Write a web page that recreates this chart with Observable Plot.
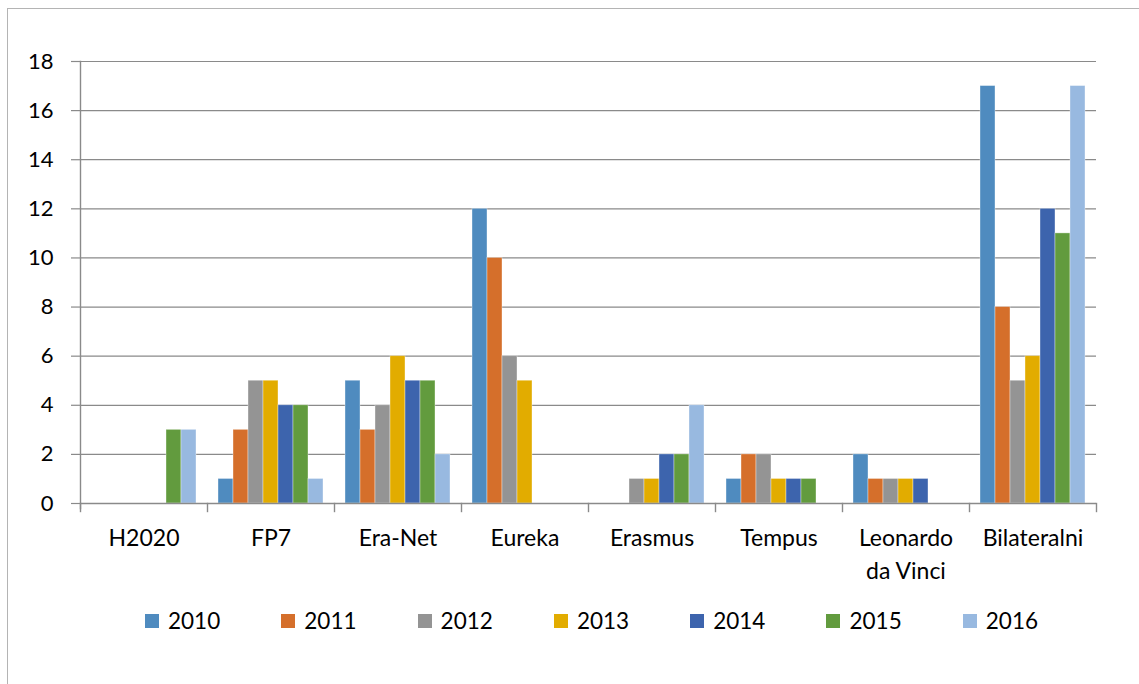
<!DOCTYPE html>
<html>
<head>
<meta charset="utf-8">
<script src="https://cdn.jsdelivr.net/npm/d3@7"></script>
<script src="https://cdn.jsdelivr.net/npm/@observablehq/plot@0.6"></script>
<style>
  html, body { margin: 0; padding: 0; background: #fff; overflow: hidden; }
  body { width: 1139px; height: 684px; position: relative; font-family: Lato, "Open Sans", sans-serif; }
  #frame { position: absolute; left: 7px; top: 8px; width: 1300px; height: 800px;
           border-left: 1.5px solid #b4b4b4; border-top: 1.5px solid #b4b4b4; box-sizing: border-box; }
  #chart { position: absolute; left: 0; top: 0; }
  #legend { position: absolute; left: 0; top: 606px; width: 1139px; height: 30px;
            display: flex; padding-left: 145px; box-sizing: border-box; }
  .item { width: 136.3px; display: flex; align-items: center; flex: none; }
  .sw { width: 14px; height: 14px; flex: none; margin-right: 9px; }
  .lab { font-size: 22.5px; color: #000; line-height: 28px; }
</style>
</head>
<body>
<div id="frame"></div>
<div id="chart"></div>
<div id="legend"></div>
<script>
// ---- data ----
const categories = ["H2020", "FP7", "Era-Net", "Eureka", "Erasmus", "Tempus", "Leonardo da Vinci", "Bilateralni"];
const years = ["2010", "2011", "2012", "2013", "2014", "2015", "2016"];
const s2010 = [0, 1, 5, 12, 0, 1, 2, 17];
const s2011 = [0, 3, 3, 10, 0, 2, 1, 8];
const s2012 = [0, 5, 4, 6, 1, 2, 1, 5];
const s2013 = [0, 5, 6, 5, 1, 1, 1, 6];
const s2014 = [0, 4, 5, 0, 2, 1, 1, 12];
const s2015 = [3, 4, 5, 0, 2, 1, 0, 11];
const s2016 = [3, 1, 2, 0, 4, 0, 0, 17];
const yTicks = [0, 2, 4, 6, 8, 10, 12, 14, 16, 18];
const colors = ["#4f8bbf", "#d56f2b", "#949494", "#e2ac00", "#3d64ad", "#629b3e", "#98b9e0"];

const series = [s2010, s2011, s2012, s2013, s2014, s2015, s2016];
const data = categories.flatMap((c, i) =>
  years.map((y, j) => ({category: c, year: y, value: series[j][i]}))
);

const gray = "#8a8a8a";
const plotH = 590, mTop = 61, mBottom = 87;
const inner = plotH - mTop - mBottom;

const chart = Plot.plot({
  width: 1139,
  height: plotH,
  marginLeft: 80,
  marginRight: 43,
  marginTop: mTop,
  marginBottom: mBottom,
  style: {fontFamily: "Lato, 'Open Sans', sans-serif", fontSize: "22px", color: "#000", background: "transparent", overflow: "visible"},
  fx: {domain: categories, padding: 0, label: null},
  x: {domain: years, paddingInner: 0, paddingOuter: 11 / 15, axis: null},
  y: {domain: [0, 18], label: null},
  color: {domain: years, range: colors},
  marks: [
    Plot.gridY(yTicks, {stroke: gray, strokeOpacity: 1, strokeWidth: 1.2}),
    Plot.barY(data.filter(d => d.value > 0), {
      fx: "category", x: "year", y: "value", fill: "year",
      stroke: "#ffffff", strokeOpacity: 0.45, strokeWidth: 0.8
    }),
    Plot.ruleY([0], {stroke: gray, strokeWidth: 1.4}),
    Plot.frame({anchor: "left", facetAnchor: "left", stroke: gray, strokeWidth: 1.4, insetBottom: -5}),
    Plot.frame({anchor: "left", stroke: gray, strokeWidth: 1.4, insetTop: inner, insetBottom: -8}),
    Plot.frame({anchor: "right", facetAnchor: "right", stroke: gray, strokeWidth: 1.4, insetTop: inner, insetBottom: -8}),
    Plot.axisY(yTicks, {
      tickSize: 9, tickPadding: 18, stroke: gray, strokeWidth: 1.2,
      fill: "#000", fontSize: 22, label: null
    }),
    Plot.axisFx({
      anchor: "bottom", tickSize: 0, tickPadding: 19, label: null,
      fill: "#000", fontSize: 23, lineHeight: 1.44,
      tickFormat: d => d === "Leonardo da Vinci" ? "Leonardo\nda Vinci" : d
    })
  ]
});
document.getElementById("chart").appendChild(chart);

// ---- legend ----
const legend = document.getElementById("legend");
years.forEach((y, i) => {
  const item = document.createElement("div");
  item.className = "item";
  const sw = document.createElement("div");
  sw.className = "sw";
  sw.style.background = colors[i];
  const lab = document.createElement("span");
  lab.className = "lab";
  lab.textContent = y;
  item.appendChild(sw);
  item.appendChild(lab);
  legend.appendChild(item);
});
</script>
</body>
</html>
